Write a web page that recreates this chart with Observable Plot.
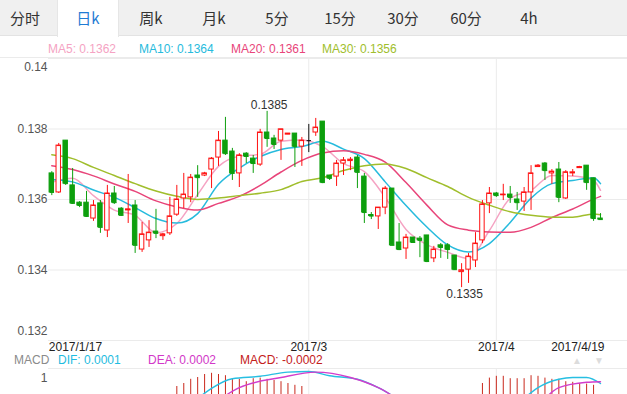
<!DOCTYPE html>
<html><head><meta charset="utf-8">
<script src="https://cdn.jsdelivr.net/npm/d3@7"></script>
<script src="https://cdn.jsdelivr.net/npm/@observablehq/plot@0.6"></script>
<style>
html,body{margin:0;padding:0;width:627px;height:394px;overflow:hidden;background:#fff;font-family:"Liberation Sans",Arial,"Noto Sans CJK SC",sans-serif;}
#tabs{position:absolute;left:0;top:0;width:627px;height:36px;background:#f0f0f0;border-bottom:1px solid #e3e3e3;box-sizing:border-box;}
#active{position:absolute;left:57px;top:0;width:62px;height:37px;background:#fff;border-left:1px solid #e6e6e6;border-right:1px solid #e6e6e6;box-sizing:border-box;}
.tab{position:absolute;top:0;height:36px;line-height:36px;font-size:15px;color:#333;transform:translateX(-50%);font-family:"Noto Sans CJK SC","Liberation Sans",sans-serif;white-space:nowrap;}
.tab.on{color:#1f7bd3;}
#legend{position:absolute;left:0;top:36px;width:627px;height:22px;border-bottom:1px solid #ebebeb;box-sizing:border-box;}
.lg{position:absolute;top:6px;font-size:12px;line-height:14px;white-space:nowrap;}
#main{position:absolute;left:0;top:56px;}
#mlegend{position:absolute;left:0;top:353px;width:627px;height:14px;}
#macd{position:absolute;left:0;top:365px;}
.arr{position:absolute;top:355px;font-size:10px;line-height:11px;color:#dcdcdc;}
</style>
</head><body>
<div id="tabs"><div id="active"></div></div>
<div id="legend"></div>
<div id="main"></div>
<div id="macd"></div>
<div id="mlegend"></div>
<div class="arr" style="left:572px">▲</div>
<div class="arr" style="left:594px">▼</div>
<script>
// ---------- data ----------
const tabNames = ["分时","日k","周k","月k","5分","15分","30分","60分","4h"];
const activeTab = 1;

const maNames = ["MA5","MA10","MA20","MA30"];
const maLast = ["0.1362","0.1364","0.1361","0.1356"];
const maColors = ["#f5a3c3","#27bbdd","#e8457a","#a0be2c"];

const open = [0.13674,0.13620,0.13767,0.13640,0.13591,0.13591,0.13546,0.13589,0.13512,0.13617,
0.13574,0.13569,0.13583,0.13458,0.13484,0.13509,0.13496,0.13504,0.13557,0.13603,
0.13606,0.13668,0.13668,0.13685,0.13719,0.13767,0.13736,0.13674,0.13730,0.13716,
0.13699,0.13790,0.13773,0.13767,0.13784,0.13787,0.13750,0.13767,0.13790,0.13821,
0.13668,0.13665,0.13702,0.13709,0.13719,0.13665,0.13556,0.13552,0.13577,0.13631,
0.13478,0.13461,0.13492,0.13489,0.13498,0.13433,0.13470,0.13470,0.13441,0.13394,
0.13401,0.13427,0.13484,0.13589,0.13617,0.13612,0.13614,0.13600,0.13594,0.13620,
0.13692,0.13702,0.13674,0.13685,0.13603,0.13674,0.13689,0.13696,0.13660,0.13546];
const close = [0.13620,0.13753,0.13645,0.13589,0.13583,0.13552,0.13583,0.13521,0.13617,0.13591,
0.13555,0.13572,0.13470,0.13501,0.13506,0.13504,0.13501,0.13552,0.13600,0.13614,
0.13662,0.13662,0.13674,0.13716,0.13767,0.13730,0.13674,0.13725,0.13722,0.13702,
0.13790,0.13773,0.13756,0.13799,0.13787,0.13750,0.13767,0.13767,0.13804,0.13648,
0.13660,0.13702,0.13711,0.13713,0.13677,0.13563,0.13553,0.13577,0.13631,0.13470,
0.13458,0.13492,0.13478,0.13484,0.13424,0.13458,0.13464,0.13458,0.13401,0.13399,
0.13438,0.13475,0.13586,0.13617,0.13611,0.13614,0.13606,0.13591,0.13620,0.13674,
0.13696,0.13682,0.13679,0.13606,0.13677,0.13677,0.13692,0.13648,0.13546,0.13543];
const high = [0.13679,0.13759,0.13767,0.13688,0.13594,0.13623,0.13597,0.13597,0.13640,0.13637,
0.13577,0.13671,0.13597,0.13535,0.13540,0.13572,0.13504,0.13606,0.13640,0.13674,
0.13671,0.13696,0.13677,0.13719,0.13793,0.13833,0.13745,0.13730,0.13733,0.13725,
0.13799,0.13850,0.13782,0.13799,0.13787,0.13787,0.13776,0.13813,0.13830,0.13821,
0.13668,0.13711,0.13719,0.13719,0.13725,0.13674,0.13563,0.13577,0.13637,0.13631,
0.13532,0.13501,0.13492,0.13495,0.13498,0.13467,0.13475,0.13475,0.13441,0.13418,
0.13447,0.13506,0.13597,0.13634,0.13620,0.13643,0.13637,0.13620,0.13634,0.13696,
0.13699,0.13705,0.13685,0.13705,0.13682,0.13685,0.13694,0.13696,0.13660,0.13560];
const low = [0.13611,0.13617,0.13640,0.13586,0.13577,0.13549,0.13538,0.13504,0.13492,0.13586,
0.13552,0.13532,0.13447,0.13450,0.13464,0.13489,0.13484,0.13498,0.13552,0.13574,
0.13591,0.13606,0.13665,0.13631,0.13694,0.13725,0.13654,0.13634,0.13702,0.13674,
0.13694,0.13748,0.13742,0.13711,0.13784,0.13691,0.13694,0.13733,0.13779,0.13645,
0.13654,0.13637,0.13668,0.13682,0.13631,0.13532,0.13543,0.13515,0.13557,0.13470,
0.13455,0.13430,0.13478,0.13435,0.13421,0.13421,0.13433,0.13430,0.13399,0.13350,
0.13362,0.13407,0.13475,0.13560,0.13606,0.13597,0.13589,0.13569,0.13566,0.13569,
0.13691,0.13654,0.13643,0.13591,0.13600,0.13665,0.13689,0.13626,0.13538,0.13543];

// moving averages at these candle indices
const maIdx = [0,3,6,9,12,15,18,21,24,27,30,33,36,39,42,45,48,51,54,57,60,63,66,69,72,75,78,79];
const ma5 = [0.13649,0.13660,0.13611,0.13570,0.13555,0.13506,0.13532,0.13614,0.13694,0.13723,0.13728,0.13765,0.13769,0.13750,0.13702,0.13679,0.13606,0.13515,0.13472,0.13450,0.13433,0.13512,0.13603,0.13626,0.13668,0.13667,0.13654,0.13626];
const ma10 = [0.13657,0.13650,0.13627,0.13606,0.13577,0.13546,0.13533,0.13560,0.13643,0.13689,0.13722,0.13742,0.13750,0.13765,0.13743,0.13716,0.13650,0.13583,0.13522,0.13471,0.13451,0.13475,0.13535,0.13604,0.13645,0.13654,0.13662,0.13645];
const ma20 = [0.13696,0.13685,0.13667,0.13644,0.13623,0.13596,0.13579,0.13570,0.13589,0.13609,0.13640,0.13678,0.13711,0.13732,0.13738,0.13728,0.13706,0.13648,0.13584,0.13528,0.13513,0.13508,0.13507,0.13521,0.13549,0.13573,0.13601,0.13609];
const ma30 = [0.13727,0.13716,0.13691,0.13668,0.13645,0.13624,0.13609,0.13600,0.13604,0.13611,0.13618,0.13628,0.13651,0.13662,0.13682,0.13696,0.13701,0.13688,0.13662,0.13637,0.13606,0.13584,0.13565,0.13555,0.13550,0.13550,0.13559,0.13557];

const yTicks = [0.14,0.138,0.136,0.134,0.132];
const dateIdx = [0,37,64,79];
const dateLabels = ["2017/1/17","2017/3","2017/4","2017/4/19"];
const extremes = [{i:31, v:0.1385, label:"0.1385"},{i:59, v:0.1335, label:"0.1335"}];

// MACD panel (only its top part is visible)
const macdLegend = [["MACD","#8a8a8a"],["DIF: 0.0001","#1fbce0"],["DEA: 0.0002","#d238c8"],["MACD: -0.0002","#c4201a"]];
const macdLegendX = [14,58,148,240];
const barIdx = [18,19,20,21,22,23,24,25,26,27,28,29,30,31,32,33,34,35,36,
                62,63,64,65,66,67,68,69,70,71,72,73,74,75,76,77,78];
const barVal = [0.70,0.75,0.82,0.85,0.90,0.92,0.90,0.88,0.83,0.82,0.78,0.83,0.84,0.82,0.80,0.78,0.75,0.72,0.70,
                0.75,0.84,0.87,0.87,0.83,0.83,0.83,0.88,0.87,0.84,0.82,0.82,0.78,0.77,0.75,0.74,0.72];
const difIdx = [21,23,26,30,34,37,40,44,47,49, 68,70,73,75,77,79];
const difVal = [0.50,0.67,0.83,0.87,0.94,0.95,0.88,0.82,0.68,0.55, 0.50,0.68,0.82,0.85,0.85,0.75];
const difSeg = [0,0,0,0,0,0,0,0,0,0, 1,1,1,1,1,1];
const deaIdx = [25,27,33,38,43,47,49, 71,73,77,79];
const deaVal = [0.55,0.68,0.85,0.94,0.85,0.68,0.55, 0.50,0.68,0.77,0.78];
const deaSeg = [0,0,0,0,0,0,0, 1,1,1,1];

// ---------- html parts ----------
const tabCenters = [25,88,151,214,277,340,403,466,529];
const tabs = document.getElementById("tabs");
tabNames.forEach((t,k)=>{
  const s = document.createElement("span");
  s.className = "tab" + (k===activeTab ? " on" : "");
  s.style.left = tabCenters[k] + "px";
  s.textContent = t;
  tabs.appendChild(s);
});
const legendX = [48,139,231,322];
const leg = document.getElementById("legend");
maNames.forEach((n,k)=>{
  const s = document.createElement("span");
  s.className = "lg"; s.style.left = legendX[k]+"px"; s.style.color = maColors[k];
  s.textContent = n + ": " + maLast[k];
  leg.appendChild(s);
});
const ml = document.getElementById("mlegend");
macdLegend.forEach(([t,c],k)=>{
  const s = document.createElement("span");
  s.className = "lg"; s.style.top = "0px"; s.style.left = macdLegendX[k]+"px"; s.style.color = c;
  s.textContent = t;
  ml.appendChild(s);
});

// ---------- main chart ----------
const RED = "#ff1010", GREEN = "#0d9f0d";
const candles = open.map((o,k)=>({i:k, open:o, close:close[k], high:high[k], low:low[k]}));
const col = d => d.close > d.open ? RED : d.close < d.open ? GREEN : "#111";
const maData = [ma5,ma10,ma20,ma30].flatMap((arr,s)=>arr.map((v,k)=>({i:maIdx[k], v, s})));
const dates = dateIdx.map((i,k)=>({i, label:dateLabels[k], y:0.132}));
const xDomain = [-0.475, 82.885];
const gridColor = "#ebebeb";

const main = Plot.plot({
  width: 627, height: 296,
  marginLeft: 48, marginRight: 0, marginTop: 2, marginBottom: 12,
  style: {fontFamily: "'Liberation Sans', Arial, sans-serif", fontSize: "12px", color: "#555", background: "transparent", overflow: "visible"},
  x: {domain: xDomain, axis: null, label: null},
  y: {domain: [0.132, 0.14], label: null},
  marks: [
    Plot.ruleY(yTicks, {stroke: gridColor}),
    Plot.ruleX([dateIdx[1], dateIdx[2]], {y1: 0.132, y2: 0.14, stroke: gridColor}),
    Plot.axisY({ticks: [0.138,0.136,0.134], tickSize: 0, tickPadding: 1, label: null, tickFormat: d => String(d)}),
    Plot.axisY({ticks: [0.14], tickSize: 0, tickPadding: 1, dy: 9, label: null, tickFormat: d => String(d)}),
    Plot.axisY({ticks: [0.132], tickSize: 0, tickPadding: 1, dy: -9, label: null, tickFormat: d => String(d)}),
    Plot.line(maData, {x: "i", y: "v", z: "s", stroke: d => maColors[d.s], strokeWidth: 1.5, curve: "monotone-x"}),
    Plot.ruleX(candles, {x: "i", y1: "low", y2: "high", stroke: col, strokeWidth: 1}),
    Plot.rect(candles, {x1: d => d.i - 0.32, x2: d => d.i + 0.32, y1: "open", y2: "close",
      fill: d => d.close > d.open ? "#fff" : col(d), stroke: col, strokeWidth: 1}),
    Plot.link(candles, {x1: d => d.i - 0.32, x2: d => d.i + 0.32, y1: "close", y2: "close", stroke: col}),
    Plot.text(extremes, {x: "i", y: "v", text: "label", fill: "#333",
      filter: d => d.v > 0.136, dx: 2, dy: -6, fontSize: 12}),
    Plot.text(extremes, {x: "i", y: "v", text: "label", fill: "#333",
      filter: d => d.v < 0.136, dx: 3, dy: 7, fontSize: 12}),
    Plot.text(dates.slice(0,1), {x: "i", y: "y", text: "label", textAnchor: "start", dx: -3, dy: 7, fill: "#222", fontSize: 12}),
    Plot.text(dates.slice(1,3), {x: "i", y: "y", text: "label", textAnchor: "middle", dy: 7, fill: "#222", fontSize: 12}),
    Plot.text(dates.slice(3), {x: "i", y: "y", text: "label", textAnchor: "end", dx: 4, dy: 7, fill: "#222", fontSize: 12})
  ]
});
document.getElementById("main").appendChild(main);

// ---------- MACD panel ----------
const bars = barIdx.map((i,k)=>({i, v: barVal[k]}));
const lines = [
  ...difIdx.map((i,k)=>({i, v: difVal[k], s: "dif" + difSeg[k], c: "#27bfe2"})),
  ...deaIdx.map((i,k)=>({i, v: deaVal[k], s: "dea" + deaSeg[k], c: "#d23ccc"}))
];
const macd = Plot.plot({
  width: 627, height: 123,
  marginLeft: 48, marginRight: 0, marginTop: 3, marginBottom: 0,
  style: {fontFamily: "'Liberation Sans', Arial, sans-serif", fontSize: "12px", color: "#555", background: "transparent", overflow: "visible"},
  x: {domain: xDomain, axis: null, label: null},
  y: {domain: [-1, 1], label: null},
  marks: [
    Plot.ruleY([1], {stroke: gridColor}),
    Plot.ruleX([dateIdx[1], dateIdx[2]], {y1: -1, y2: 1, stroke: gridColor}),
    Plot.axisY({ticks: [1], tickSize: 0, tickPadding: 1, dy: 10, label: null, tickFormat: d => String(d)}),
    Plot.ruleX(bars, {x: "i", y1: 0, y2: "v", stroke: "#c9281c", strokeWidth: 1}),
    Plot.line(lines, {x: "i", y: "v", z: "s", stroke: "c", strokeWidth: 1.4, curve: "monotone-x"})
  ]
});
document.getElementById("macd").appendChild(macd);
</script>
</body></html>
